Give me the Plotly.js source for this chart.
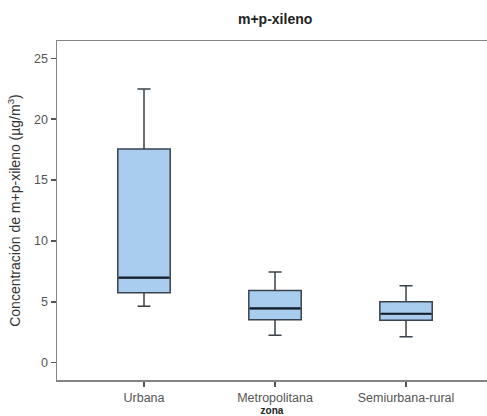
<!DOCTYPE html>
<html>
<head>
<meta charset="utf-8">
<script src="https://cdn.plot.ly/plotly-3.0.1.min.js"></script>
<style>body{margin:0;padding:0;background:#fff;}#chart{width:487px;height:416px;}</style>
</head>
<body>
<div id="chart"></div>
<script>
const categories = ["Urbana", "Metropolitana", "Semiurbana-rural"];
const lowerWhisker = [4.63, 2.25, 2.13];
const q1Values = [5.75, 3.53, 3.48];
const medianValues = [6.98, 4.46, 4.02];
const q3Values = [17.55, 5.94, 5.01];
const upperWhisker = [22.47, 7.45, 6.32];
const yTicks = [0, 5, 10, 15, 20, 25];

const boxTrace = {
  type: "box",
  x: categories,
  q1: q1Values,
  median: medianValues,
  q3: q3Values,
  lowerfence: lowerWhisker,
  upperfence: upperWhisker,
  width: 0.4,
  whiskerwidth: 0.25,
  fillcolor: "#a9cdee",
  line: {color: "#3a424c", width: 1.5},
  boxpoints: false,
  hoverinfo: "skip",
  showlegend: false
};

// thicker median line, drawn from the same median values
const medianTrace = {
  type: "box",
  x: categories,
  q1: medianValues,
  median: medianValues,
  q3: medianValues,
  lowerfence: medianValues,
  upperfence: medianValues,
  width: 0.385,
  whiskerwidth: 0,
  fillcolor: "rgba(0,0,0,0)",
  line: {color: "#15202c", width: 2.2},
  boxpoints: false,
  hoverinfo: "skip",
  showlegend: false
};

const fontFam = "Liberation Sans, Arial, sans-serif";
const layout = {
  width: 487,
  height: 416,
  margin: {l: 57, r: 0, t: 41, b: 36},
  paper_bgcolor: "#fff",
  plot_bgcolor: "#fff",
  boxmode: "overlay",
  font: {family: fontFam, color: "#555"},
  title: {text: "<b>m+p-xileno</b>", font: {size: 14, color: "#222", family: fontFam}, x: 0.565, xanchor: "center", y: 0.955, yanchor: "middle"},
  xaxis: {
    type: "category",
    range: [-0.664, 2.618],
    showline: true, mirror: true, linecolor: "#858585", linewidth: 1.5,
    showgrid: false, zeroline: false,
    ticks: "outside", ticklen: 5, tickcolor: "#555", tickwidth: 1.5,
    tickfont: {size: 12.5, color: "#555"},
    title: {text: "<b>zona</b>", font: {size: 10, color: "#222"}, standoff: 3}
  },
  yaxis: {
    range: [-1.42, 26.42],
    tickvals: yTicks,
    showline: true, mirror: false, linecolor: "#858585", linewidth: 1.5,
    showgrid: false, zeroline: false,
    ticks: "outside", ticklen: 5, tickcolor: "#555", tickwidth: 1.5,
    tickfont: {size: 12.5, color: "#555"},
    title: {text: "Concentración de m+p-xileno (µg/m<sup>3</sup>)", font: {size: 14, color: "#333"}, standoff: 10}
  }
};

Plotly.newPlot("chart", [boxTrace, medianTrace], layout, {displayModeBar: false, staticPlot: true});
</script>
</body>
</html>
